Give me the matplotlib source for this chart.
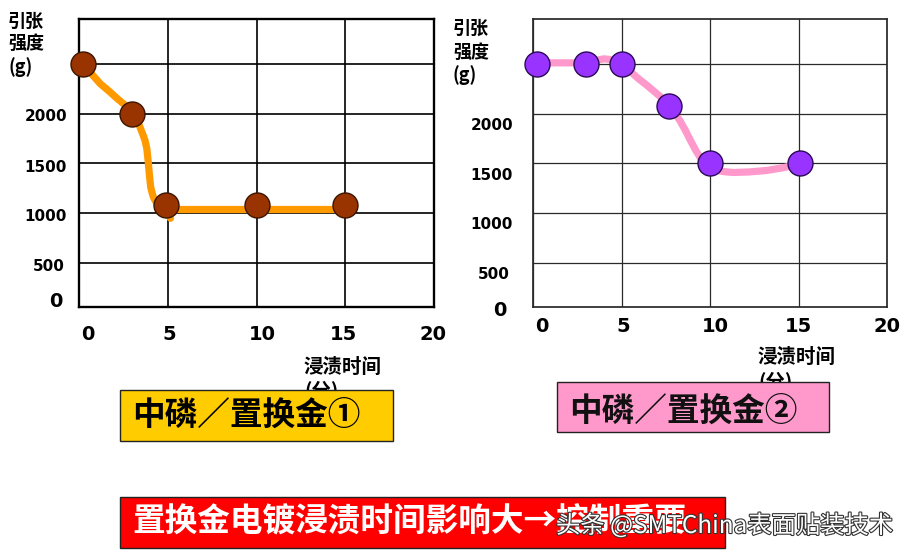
import matplotlib
matplotlib.use('Agg')
import matplotlib.pyplot as plt
from matplotlib.patches import Rectangle
import matplotlib.patheffects as pe

CJK = ['Noto Sans CJK SC', 'DejaVu Sans']
plt.rcParams['font.family'] = CJK

# ---------------- data ----------------
x_ticks = [0, 5, 10, 15, 20]
x_tick_labels = ['0', '5', '10', '15', '20']
y_grid = [500, 1000, 1500, 2000, 2500]
y_ticks = [0, 500, 1000, 1500, 2000]
y_tick_labels = ['0', '500', '1000', '1500', '2000']

y_title = ['引张', '强度', '(g)']
x_title = ['浸渍时间', '(分)']

# chart 1 (中磷／置换金①)
p1_time = [0.2, 3.0, 4.9, 10.0, 15.0]
p1_strength = [2500, 2000, 1080, 1080, 1080]
c1_time = [0.2, 0.7, 1.2, 1.7, 2.1, 2.6, 3.0, 3.25, 3.44, 3.6, 3.72, 3.82, 3.9, 3.96,
           4.04, 4.12, 4.19, 4.3, 4.47, 4.7, 4.9, 5.05, 5.15]
c1_strength = [2500, 2400, 2300, 2225, 2160, 2085, 2000, 1940, 1863, 1790, 1730, 1650,
               1520, 1397, 1263, 1205, 1163, 1125, 1097, 1080, 1060, 1010, 950]
c1_flat_time = [5.0, 15.0]
c1_flat_strength = [1040, 1040]

# chart 2 (中磷／置换金②)
p2_time = [0.2, 3.0, 5.0, 7.7, 10.0, 15.1]
p2_strength = [2500, 2500, 2500, 2080, 1500, 1500]
c2_time = [0.2, 3.0, 3.4, 3.7, 4.0, 4.3, 4.6, 5.0, 5.4, 5.9, 6.5, 7.0, 7.4, 7.7, 8.0, 8.3,
           8.6, 8.9, 9.2, 9.5, 9.8, 10.1, 10.4, 10.8, 11.3, 12.2, 13.2, 14.2, 15.1]
c2_strength = [2510, 2510, 2520, 2540, 2550, 2545, 2530, 2500, 2440, 2360, 2275, 2200,
               2140, 2080, 2010, 1930, 1835, 1730, 1630, 1545, 1480, 1450, 1430, 1418,
               1410, 1415, 1430, 1460, 1500]

box1_text = '中磷／置换金①'
box2_text = '中磷／置换金②'
box3_text = '置换金电镀浸渍时间影响大→控制重要'
watermark = '头条 @SMTChina表面贴装技术'

# ---------------- figure ----------------
W, H = 907, 556
fig = plt.figure(figsize=(W / 100, H / 100), dpi=100)


def fx(x):
    return x / W


def fy(y):
    return 1 - y / H


ax1 = fig.add_axes([fx(79), fy(307), 355 / W, 288 / H])
ax2 = fig.add_axes([fx(533), fy(307), 354 / W, 288 / H])

for ax, lc, lw in ((ax1, 'black', 1.2), (ax2, '#2a2a2a', 0.9)):
    ax.set_xlim(0, 20)
    ax.set_ylim(60, 2950)
    ax.set_xticks(x_ticks)
    ax.set_yticks(y_grid)
    ax.tick_params(length=0, labelbottom=False, labelleft=False)
    ax.grid(True, color=lc, linewidth=lw)
    ax.set_axisbelow(True)
    for s in ax.spines.values():
        s.set_color(lc)
        s.set_linewidth(lw * 1.4)

# lines & markers
ax1.plot(c1_time, c1_strength, color='#FF9900', lw=5.2, solid_capstyle='round',
         solid_joinstyle='round', zorder=3)
ax1.plot(c1_flat_time, c1_flat_strength, color='#FF9900', lw=5.2, solid_capstyle='round', zorder=3)
ax1.plot(p1_time, p1_strength, 'o', ms=18, mfc='#993300', mec='#3a1500', mew=1,
         zorder=4, clip_on=False)

ax2.plot(c2_time, c2_strength, color='#FF99CC', lw=5.2, solid_capstyle='round',
         solid_joinstyle='round', zorder=3)
ax2.plot(p2_time, p2_strength, 'o', ms=18, mfc='#9933FF', mec='#2a0a55', mew=1,
         zorder=4, clip_on=False)


def y_labels(ax, dxs, dys):
    for v, lab, dx, dy in zip(y_ticks, y_tick_labels, dxs, dys):
        fs = 14 if lab == '0' else 11
        ax.annotate(lab, xy=(0, v), xycoords=ax.get_yaxis_transform(),
                    xytext=(dx * 0.72, dy * 0.72), textcoords='offset points',
                    ha='right', va='center', fontsize=fs, fontweight='bold',
                    family='DejaVu Sans', annotation_clip=False)


def x_labels(ax, dxs, dy):
    for v, lab, dx in zip(x_ticks, x_tick_labels, dxs):
        ax.annotate(lab, xy=(v, 0), xycoords=ax.get_xaxis_transform(),
                    xytext=(dx * 0.72, dy * 0.72), textcoords='offset points',
                    ha='center', va='center', fontsize=14, fontweight='bold',
                    family='DejaVu Sans', annotation_clip=False)


y_labels(ax1, [-17, -14, -12, -12, -12], [11, -3, -3, -4, -3])
y_labels(ax2, [-26, -23, -20, -20, -20], [2, -11, -11, -12, -12])
x_labels(ax1, [9, 2, 6, -2, -1], -28)
x_labels(ax2, [9, 2, 5, 0, 0], -20)

# axis titles
for (xl, ys) in ((8, (21, 43, 67)), (453, (28, 52, 75))):
    for t, y in zip(y_title, ys):
        fig.text(fx(xl), fy(y), t, ha='left', va='center', fontsize=13,
                 fontweight='bold', zorder=1)

for (xl, ys) in ((304, (367, 390)), (758, (357, 381))):
    for t, y in zip(x_title, ys):
        fig.text(fx(xl), fy(y), t, ha='left', va='center', fontsize=14,
                 fontweight='bold', zorder=1)

# boxes


def box(x0, y0, x1, y1, color, text, tcolor, tx, ty):
    r = Rectangle((fx(x0), fy(y1)), (x1 - x0) / W, (y1 - y0) / H,
                  transform=fig.transFigure, facecolor=color,
                  edgecolor='#222222', linewidth=1.0, zorder=10)
    fig.add_artist(r)
    fig.text(fx(tx), fy(ty), text, ha='left', va='center', fontsize=23.5,
             fontweight='bold', color=tcolor, zorder=11)


box(120, 390, 393, 441, '#FFCC00', box1_text, 'black', 132, 415)
box(557, 382, 829, 432, '#FF99CC', box2_text, '#111111', 569, 411)
box(120, 497, 725, 548, '#FF0000', box3_text, 'white', 132, 522)

fig.text(fx(556), fy(526), watermark, ha='left', va='center', fontsize=17.5,
         color='white', zorder=12,
         path_effects=[pe.withStroke(linewidth=1.6, foreground='#333333')])

fig.savefig('out.png', dpi=100)
